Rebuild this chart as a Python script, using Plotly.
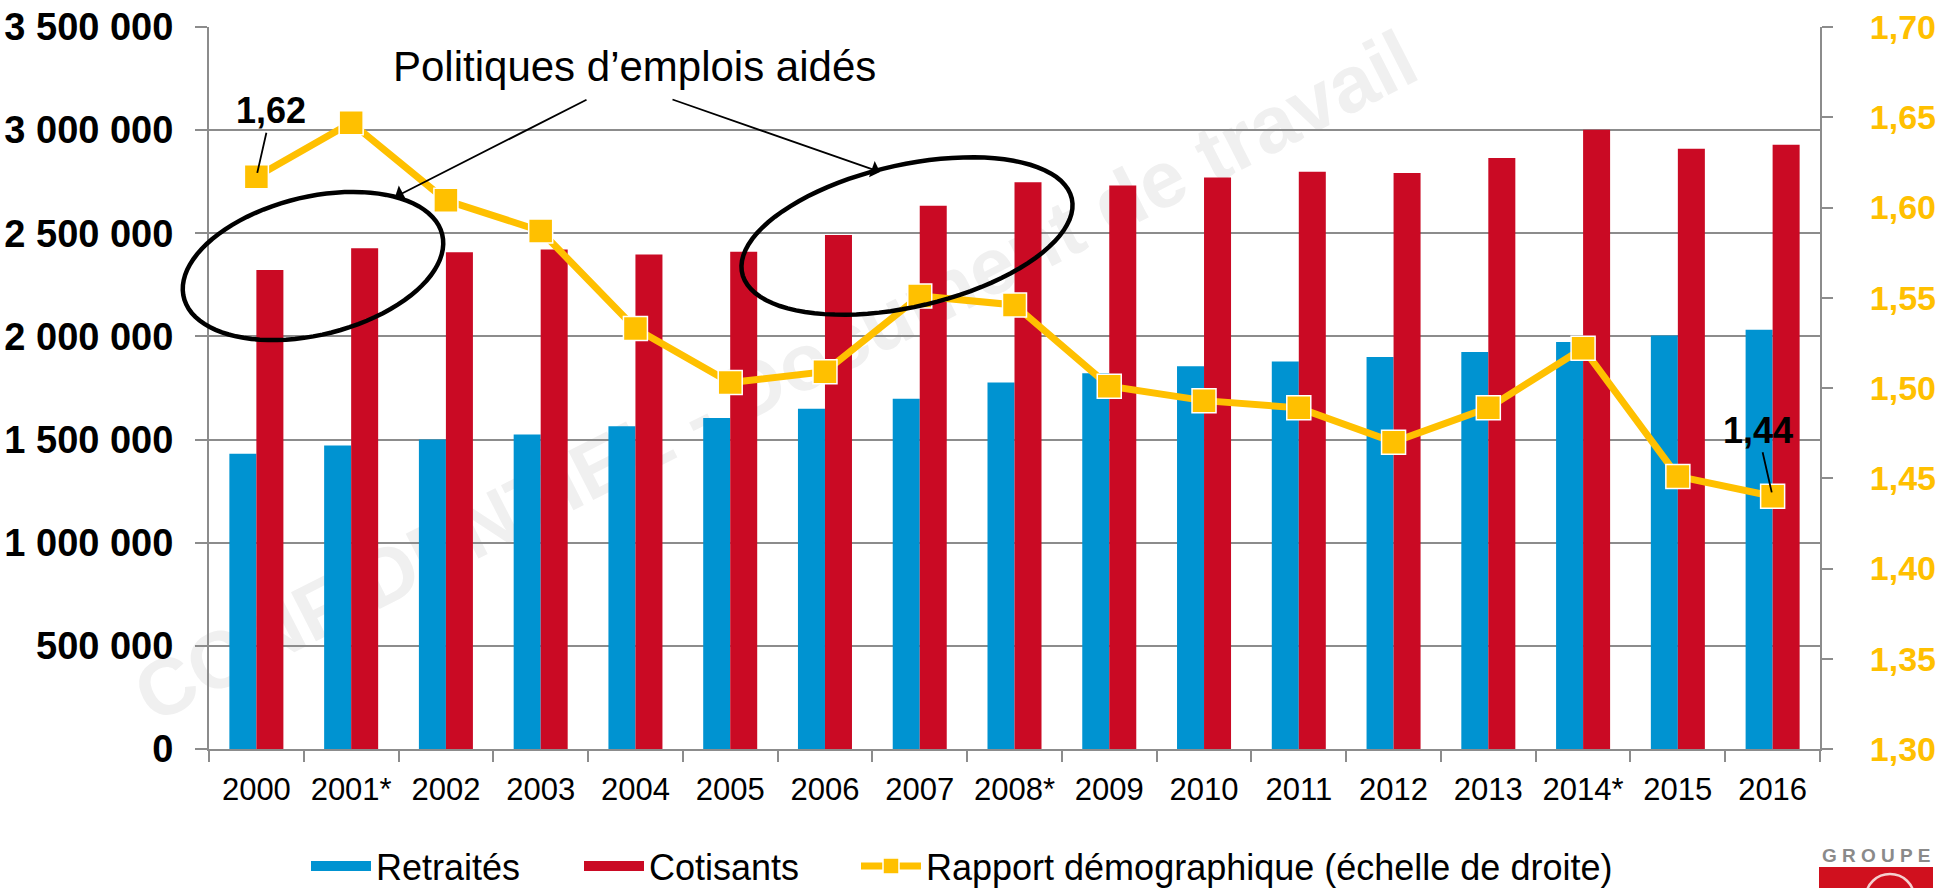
import numpy as np
import plotly.graph_objects as go

# ---------------- data ----------------
years = ["2000", "2001*", "2002", "2003", "2004", "2005", "2006", "2007", "2008*",
         "2009", "2010", "2011", "2012", "2013", "2014*", "2015", "2016"]
retraites = [1431000, 1471000, 1500000, 1524000, 1565000, 1605000, 1650000, 1698000,
             1777000, 1822000, 1855000, 1879000, 1900000, 1924000, 1973000, 2005000, 2032000]
cotisants = [2322000, 2428000, 2408000, 2421000, 2397000, 2411000, 2492000, 2634000,
             2747000, 2732000, 2771000, 2798000, 2792000, 2865000, 3002000, 2910000, 2929000]
rapport = [1.617, 1.647, 1.604, 1.587, 1.533, 1.503, 1.509, 1.551, 1.546,
           1.501, 1.493, 1.489, 1.470, 1.489, 1.522, 1.451, 1.440]

left_tickvals = [0, 500000, 1000000, 1500000, 2000000, 2500000, 3000000, 3500000]
left_ticktext = ["0", "500 000", "1 000 000", "1 500 000", "2 000 000", "2 500 000",
                 "3 000 000", "3 500 000"]
right_tickvals = [1.30, 1.35, 1.40, 1.45, 1.50, 1.55, 1.60, 1.65, 1.70]
right_ticktext = ["1,30", "1,35", "1,40", "1,45", "1,50", "1,55", "1,60", "1,65", "1,70"]

# ---------------- geometry ----------------
W, H = 1941, 888
L, R, T, B = 209, 121, 27, 139
PW, PH = W - L - R, H - T - B

def px(x):
    return (x - L) / PW

def py(y):
    return (H - B - y) / PH

FONT = "Liberation Sans, Arial, sans-serif"
BLUE = "#0093D1"
RED = "#CA0A24"
GOLD = "#FFC000"
GRID = "#8C8C8C"
NAME_R, NAME_C, NAME_D = "Retraités", "Cotisants", "Rapport démographique (échelle de droite)"

fig = go.Figure()
fig.add_trace(go.Bar(x=years, y=retraites, name=NAME_R, marker_color=BLUE,
                     marker_line_width=0, showlegend=False, legendgroup="r"))
fig.add_trace(go.Bar(x=years, y=cotisants, name=NAME_C, marker_color=RED,
                     marker_line_width=0, showlegend=False, legendgroup="c"))
# legend keys (wide rectangles like the original)
fig.add_trace(go.Scatter(x=[None], y=[None], mode="lines", name=NAME_R, legendgroup="r",
                         legend="legend", line=dict(color=BLUE, width=20), hoverinfo="skip"))
fig.add_trace(go.Scatter(x=[None], y=[None], mode="lines", name=NAME_C, legendgroup="c",
                         legend="legend2", line=dict(color=RED, width=20), hoverinfo="skip"))
fig.add_trace(go.Scatter(x=years, y=rapport, name=NAME_D, legend="legend3",
                         yaxis="y2", mode="lines+markers",
                         line=dict(color=GOLD, width=7),
                         marker=dict(symbol="square", size=24, color=GOLD,
                                     line=dict(color="white", width=1.5))))

# ellipses (annotation drawings)
def ellipse_path(cx, cy, a, b, theta_deg, n=90):
    t = np.linspace(0, 2 * np.pi, n)
    th = np.radians(theta_deg)
    xs = cx + a * np.cos(t) * np.cos(th) + b * np.sin(t) * np.sin(th)
    ys = cy - a * np.cos(t) * np.sin(th) + b * np.sin(t) * np.cos(th)
    pts = [f"{px(x):.5f},{py(y):.5f}" for x, y in zip(xs, ys)]
    return "M " + " L ".join(pts) + " Z"

# watermark baseline
wm_c, wm_ang, wm_half = (792, 412), np.radians(27), 600
wx0 = wm_c[0] - wm_half * np.cos(wm_ang)
wy0 = wm_c[1] + wm_half * np.sin(wm_ang)
wx1 = wm_c[0] + wm_half * np.cos(wm_ang)
wy1 = wm_c[1] - wm_half * np.sin(wm_ang)

shapes = [
    dict(type="line", xref="paper", yref="paper", layer="below",
         x0=px(wx0), y0=py(wy0), x1=px(wx1), y1=py(wy1),
         line=dict(color="rgba(0,0,0,0)", width=0),
         label=dict(text="<b>CONFIDENTIEL - Document de travail</b>",
                    textposition="middle", textangle=-27,
                    font=dict(family=FONT, size=80, color="#F0F0F0"))),
    dict(type="path", xref="paper", yref="paper",
         path=ellipse_path(313, 266, 133, 69, 13.7), line=dict(color="black", width=4.5)),
    dict(type="path", xref="paper", yref="paper",
         path=ellipse_path(907, 236, 169, 71, 12.8), line=dict(color="black", width=4.5)),
    # logo block
    dict(type="rect", xref="paper", yref="paper", x0=px(1819), x1=px(1933),
         y0=py(890), y1=py(867), fillcolor="#D0101E", line_width=0),
    dict(type="circle", xref="paper", yref="paper", x0=px(1866), x1=px(1914),
         y0=py(920), y1=py(874), line=dict(color="#F5D0D0", width=2.5)),
]

n = len(years)
annotations = [
    dict(text="Politiques d’emplois aidés", xref="paper", yref="paper",
         x=px(634), y=py(66), xanchor="center", yanchor="middle", showarrow=False,
         font=dict(family=FONT, size=42, color="black")),
    dict(text="", xref="paper", yref="paper", x=px(395), y=py(197),
         ax=588 - 395, ay=99 - 197, showarrow=True, arrowhead=1, arrowsize=1.6,
         arrowwidth=1.8, arrowcolor="black"),
    dict(text="", xref="paper", yref="paper", x=px(880), y=py(172),
         ax=671 - 880, ay=99 - 172, showarrow=True, arrowhead=1, arrowsize=1.6,
         arrowwidth=1.8, arrowcolor="black"),
    dict(text="<b>1,62</b>", x=0, y=rapport[0], xref="x", yref="y2",
         ax=15, ay=-66, showarrow=True, arrowhead=0, arrowwidth=1.8, arrowcolor="black",
         standoff=4, font=dict(family=FONT, size=36, color="black")),
    dict(text="<b>1,44</b>", x=n - 1, y=rapport[-1], xref="x", yref="y2",
         ax=-15, ay=-66, showarrow=True, arrowhead=0, arrowwidth=1.8, arrowcolor="black",
         standoff=4, font=dict(family=FONT, size=36, color="black")),
    dict(text="<b>G R O U P E</b>", xref="paper", yref="paper", x=px(1876), y=py(855),
         xanchor="center", yanchor="middle",
         showarrow=False, font=dict(family=FONT, size=19, color="#8A8A8A")),
]

def leg(x):
    return dict(orientation="h", x=px(x), xanchor="left", y=py(866), yanchor="middle",
                font=dict(family=FONT, size=36, color="black"), itemwidth=60,
                bgcolor="rgba(0,0,0,0)", borderwidth=0)

fig.update_layout(
    template="none",
    width=W, height=H,
    margin=dict(l=L, r=R, t=T, b=B, pad=0, autoexpand=False),
    paper_bgcolor="white", plot_bgcolor="rgba(0,0,0,0)",
    barmode="group", bargap=0.43, bargroupgap=0,
    font=dict(family=FONT, color="black"),
    showlegend=True,
    legend=leg(306), legend2=leg(579), legend3=leg(856),
    xaxis=dict(type="category", range=[-0.5, n - 0.5], automargin=False,
               showline=True, linecolor=GRID, linewidth=2,
               ticks="outside", tickson="boundaries", ticklen=11, tickcolor=GRID,
               tickwidth=2, showgrid=False, tickangle=0,
               tickfont=dict(family=FONT, size=31, color="black"),
               ticklabelstandoff=12),
    yaxis=dict(range=[0, 3500000], tickvals=left_tickvals, ticktext=left_ticktext,
               automargin=False,
               showline=True, linecolor=GRID, linewidth=2, ticks="outside", ticklen=12,
               tickcolor=GRID, tickwidth=2, showgrid=True, gridcolor=GRID, gridwidth=2,
               zeroline=False,
               tickfont=dict(family=FONT, size=38, color="black", weight="bold"),
               ticklabelstandoff=14),
    yaxis2=dict(range=[1.30, 1.70], tickvals=right_tickvals, ticktext=right_ticktext,
                automargin=False,
                overlaying="y", side="right", showline=True, linecolor=GRID, linewidth=2,
                ticks="outside", ticklen=11, tickcolor=GRID, tickwidth=2, showgrid=False,
                zeroline=False,
                tickfont=dict(family=FONT, size=34, color=GOLD, weight="bold"),
                ticklabelstandoff=30),
    shapes=shapes,
    annotations=annotations,
)

fig.write_html("out.html", config={"displayModeBar": False},
               post_script="document.body.style.margin='0px';document.body.style.overflow='hidden';")
